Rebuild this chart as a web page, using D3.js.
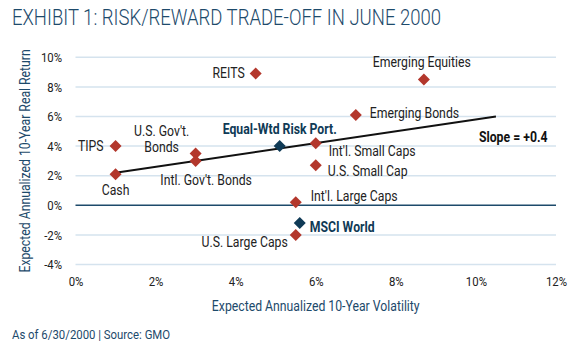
<!DOCTYPE html>
<html>
<head>
<meta charset="utf-8">
<script src="https://cdn.jsdelivr.net/npm/d3@7"></script>
<style>
  body { margin: 0; background: #fff; }
  svg { font-family: Roboto, "Noto Sans", sans-serif; display: block; }
</style>
</head>
<body>
<div id="chart"></div>
<script>
const names = ["TIPS", "Cash", "U.S. Gov't. Bonds", "Intl. Gov't. Bonds", "REITS",
  "Equal-Wtd Risk Port.", "Int'l. Small Caps", "U.S. Small Cap", "Emerging Bonds",
  "Emerging Equities", "Int'l. Large Caps", "MSCI World", "U.S. Large Caps"];
const volatility = [1.0, 1.0, 3.0, 3.0, 4.5, 5.1, 6.0, 6.0, 7.0, 8.7, 5.5, 5.6, 5.5];
const realReturn = [4.0, 2.1, 3.5, 3.0, 8.9, 4.0, 4.2, 2.7, 6.1, 8.5, 0.2, -1.2, -2.0];
const portfolios = ["Equal-Wtd Risk Port.", "MSCI World"];
const fitLine = [[1.0, 2.2], [10.5, 6.0]];
const xTicks = [0, 2, 4, 6, 8, 10, 12];
const yTicks = [-4, -2, 0, 2, 4, 6, 8, 10];

// label placement (px offsets from the marker)
const labelPos = {
  "TIPS": { dx: -12, dy: 0, anchor: "end" },
  "Cash": { dx: 0, dy: 16, anchor: "middle" },
  "U.S. Gov't. Bonds": { dx: -34, dy: -22.5, anchor: "middle", lines: ["U.S. Gov't.", "Bonds"] },
  "Intl. Gov't. Bonds": { dx: 10.5, dy: 19.5, anchor: "middle" },
  "REITS": { dx: -11, dy: 0, anchor: "end" },
  "Equal-Wtd Risk Port.": { dx: 0, dy: -17.5, anchor: "middle" },
  "Int'l. Small Caps": { dx: 13, dy: 8, anchor: "start" },
  "U.S. Small Cap": { dx: 12, dy: 6, anchor: "start" },
  "Emerging Bonds": { dx: 14, dy: -2, anchor: "start" },
  "Emerging Equities": { dx: -2, dy: -17, anchor: "middle" },
  "Int'l. Large Caps": { dx: 15, dy: -6, anchor: "start" },
  "MSCI World": { dx: 10, dy: 4, anchor: "start" },
  "U.S. Large Caps": { dx: -8, dy: 7, anchor: "end" }
};

const navy = "#1d4a6b", marker = "#0f3a56", red = "#b3372c", grid = "#d5e3ee";
const width = 577, height = 350;
const margin = { top: 57.3, right: 21, bottom: 85.5, left: 75.5 };
const innerWidth = width - margin.left - margin.right;
const innerHeight = height - margin.top - margin.bottom;
const squeeze = 0.875;

// squeeze Roboto horizontally so it reads like a condensed face
function condense(sel, rot) {
  sel.each(function() {
    const t = d3.select(this);
    const tx = +t.attr("x") || 0, ty = +t.attr("y") || 0;
    t.attr("x", 0).attr("y", 0)
      .attr("transform", `translate(${tx},${ty})${rot ? " rotate(" + rot + ")" : ""} scale(${squeeze},1)`);
  });
}

const svg = d3.select("#chart").append("svg")
  .attr("width", width)
  .attr("height", height);

// Title
svg.append("text")
  .attr("x", 12).attr("y", 25)
  .attr("fill", navy)
  .attr("font-size", 22)
  .attr("font-weight", 300)
  .attr("textLength", 429)
  .attr("lengthAdjust", "spacingAndGlyphs")
  .text("EXHIBIT 1: RISK/REWARD TRADE-OFF IN JUNE 2000");

const g = svg.append("g")
  .attr("transform", `translate(${margin.left},${margin.top})`);

const x = d3.scaleLinear().domain([0, 12]).range([0, innerWidth]);
const y = d3.scaleLinear().domain([-4, 10]).range([innerHeight, 0]);

// gridlines
g.append("g")
  .selectAll("line")
  .data(yTicks.filter(d => d !== 0))
  .enter().append("line")
  .attr("x1", 0).attr("x2", innerWidth)
  .attr("y1", d => y(d)).attr("y2", d => y(d))
  .attr("stroke", grid)
  .attr("stroke-width", 1.5);

// zero line
g.append("line")
  .attr("x1", 0).attr("x2", innerWidth)
  .attr("y1", y(0)).attr("y2", y(0))
  .attr("stroke", navy)
  .attr("stroke-width", 1.5);

// Y axis labels
const yAxis = g.append("g")
  .call(d3.axisLeft(y).tickValues(yTicks).tickSize(0).tickPadding(13.5).tickFormat(d => d + "%"));
yAxis.select(".domain").remove();
yAxis.selectAll("text")
  .attr("font-family", "Roboto")
  .attr("font-size", 13)
  .attr("fill", "#222")
  .call(condense);

// X axis labels
const xAxis = g.append("g")
  .attr("transform", `translate(0,${innerHeight})`)
  .call(d3.axisBottom(x).tickValues(xTicks).tickSize(0).tickPadding(12).tickFormat(d => d + "%"));
xAxis.select(".domain").remove();
xAxis.selectAll("text")
  .attr("font-family", "Roboto")
  .attr("font-size", 13)
  .attr("fill", "#222")
  .call(condense);

// axis titles
g.append("text")
  .attr("x", innerWidth / 2)
  .attr("y", innerHeight + 46)
  .attr("text-anchor", "middle")
  .attr("font-size", 14)
  .attr("fill", navy)
  .text("Expected Annualized 10-Year Volatility")
  .call(condense);

g.append("text")
  .attr("x", 30 - margin.left)
  .attr("y", innerHeight / 2)
  .attr("text-anchor", "middle")
  .attr("font-size", 14)
  .attr("fill", navy)
  .text("Expected Annualized 10-Year Real Return")
  .call(condense, -90);

// fitted line
g.append("path")
  .datum(fitLine)
  .attr("fill", "none")
  .attr("stroke", "#111")
  .attr("stroke-width", 2)
  .attr("d", d3.line().x(d => x(d[0])).y(d => y(d[1])));

g.append("text")
  .attr("x", x(fitLine[1][0]) - 17)
  .attr("y", y(fitLine[1][1]) + 20.5)
  .attr("dy", "0.35em")
  .attr("font-size", 14)
  .attr("font-weight", 700)
  .attr("fill", "#111")
  .text("Slope = +0.4")
  .call(condense);

// markers
const points = names.map((n, i) => ({ name: n, vol: volatility[i], ret: realReturn[i], port: portfolios.includes(n) }));

g.selectAll("path.pt")
  .data(points)
  .enter().append("path")
  .attr("class", "pt")
  .attr("transform", d => `translate(${x(d.vol)},${y(d.ret)}) rotate(45)`)
  .attr("d", d3.symbol().type(d3.symbolSquare).size(72))
  .attr("fill", d => d.port ? marker : red);

// labels
points.forEach(d => {
  const p = labelPos[d.name];
  const lines = p.lines || [d.name];
  lines.forEach((line, j) => {
    g.append("text")
      .attr("x", x(d.vol) + p.dx)
      .attr("y", y(d.ret) + p.dy + j * 16.5)
      .attr("dy", "0.35em")
      .attr("text-anchor", p.anchor)
      .attr("font-size", 14)
      .attr("font-weight", d.port ? 700 : 400)
      .attr("fill", d.port ? marker : "#222")
      .text(line)
      .call(condense);
  });
});

// footer
svg.append("text")
  .attr("x", 12).attr("y", 334)
  .attr("dy", "0.35em")
  .attr("font-size", 13)
  .attr("fill", navy)
  .text("As of 6/30/2000 | Source: GMO")
  .call(condense);
</script>
</body>
</html>
